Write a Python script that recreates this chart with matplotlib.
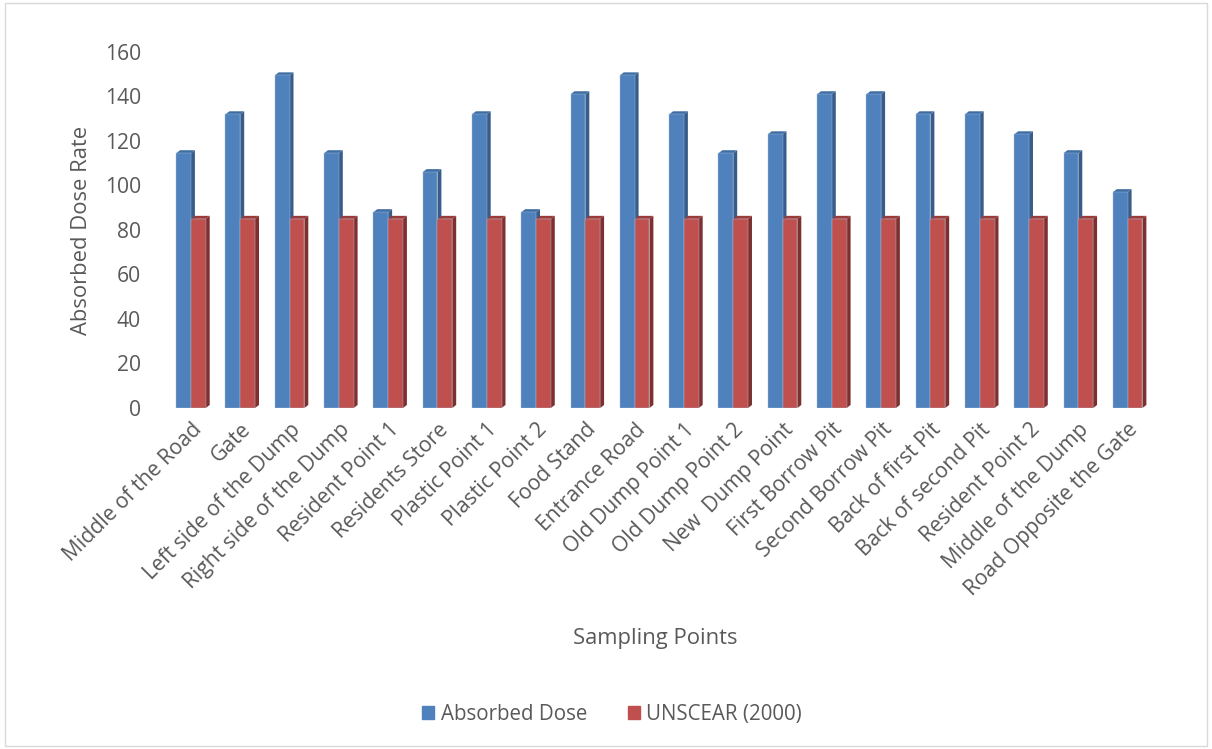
import matplotlib.pyplot as plt
import matplotlib.patches as patches
import numpy as np

plt.rcParams['font.family'] = ['Open Sans', 'DejaVu Sans']

points = ["Middle of the Road", "Gate", "Left side of the Dump", "Right side of the Dump",
          "Resident Point 1", "Residents Store", "Plastic Point 1", "Plastic Point 2",
          "Food Stand", "Entrance Road", "Old Dump Point 1", "Old Dump Point 2",
          "New  Dump Point", "First Borrow Pit", "Second Borrow Pit", "Back of first Pit",
          "Back of second Pit", "Resident Point 2", "Middle of the Dump", "Road Opposite the Gate"]
absorbed = [114.5, 132, 149.5, 114.5, 88, 106, 132, 88, 141, 149.5,
            132, 114.5, 123, 141, 141, 132, 132, 123, 114.5, 97]
unscear = [85] * 20

text_col = '#595959'
blue, blue_dark, blue_top = '#4F81BD', '#385D8A', '#3F6EA3'
red, red_dark, red_top = '#C0504D', '#7F2F2D', '#9B3B39'

fig = plt.figure(figsize=(12.12, 7.49), dpi=100)
ax = fig.add_axes([0.136, 0.4553, 0.8127, 0.4753])

x = np.arange(len(points))
w = 0.3
dx, dy = 0.08, 1.35  # fake depth


def bar3d(xc, vals, face, side, top):
    ax.bar(xc, vals, width=w, color=face, edgecolor='#A7BFDE', linewidth=0.3, zorder=2)
    for xi, v in zip(xc, vals):
        r = xi + w / 2
        l = xi - w / 2
        ax.add_patch(patches.Polygon([(r, 0), (r, v), (r + dx, v + dy), (r + dx, dy)],
                                     closed=True, facecolor=side, edgecolor='none', zorder=1))
        ax.add_patch(patches.Polygon([(l, v), (r, v), (r + dx, v + dy), (l + dx, v + dy)],
                                     closed=True, facecolor=top, edgecolor='none', zorder=1))


bar3d(x - w / 2, absorbed, blue, blue_dark, blue_top)
bar3d(x + w / 2, unscear, red, red_dark, red_top)

ax.set_xlim(-0.53, 19.45)
ax.set_ylim(0, 160)
ax.set_yticks(range(0, 161, 20))
ax.set_xticks(x)
ax.set_xticklabels(points, rotation=45, ha='right', va='top', rotation_mode='anchor')
ax.tick_params(axis='x', length=0, labelsize=15.2, colors=text_col, pad=8)
ax.tick_params(axis='y', length=0, labelsize=15.2, colors=text_col, pad=17)
for s in ax.spines.values():
    s.set_visible(False)

ax.set_ylabel('Absorbed Dose Rate', fontsize=15.8, color=text_col, labelpad=9)
fig.text(0.541, 0.148, 'Sampling Points', fontsize=15.8, color=text_col, ha='center', va='center')

handles = [patches.Patch(color=blue), patches.Patch(color=red)]
fig.legend(handles, ['Absorbed Dose', 'UNSCEAR (2000)'], loc='center', bbox_to_anchor=(0.505, 0.046),
           ncol=2, frameon=False, fontsize=14.8, labelcolor=text_col, handlelength=0.6,
           handleheight=0.6, handletextpad=0.3, columnspacing=2.0)

fig.add_artist(patches.Rectangle((0.004, 0.004), 0.992, 0.992, transform=fig.transFigure,
                                 fill=False, edgecolor='#D9D9D9', linewidth=1))

fig.savefig('out.png', dpi=100)
